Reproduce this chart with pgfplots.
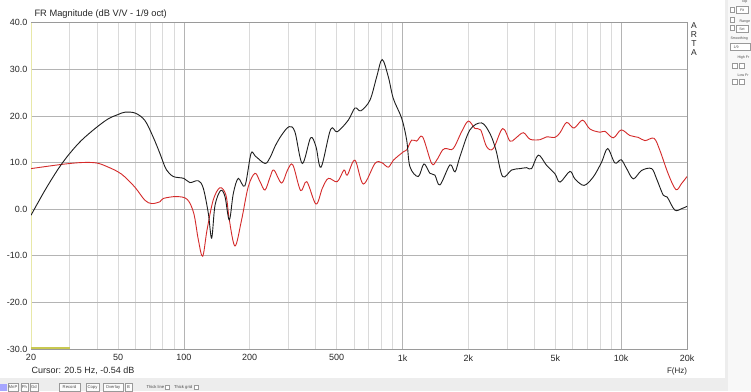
\documentclass[border=0pt]{standalone}
\usepackage{pgfplots}
\pgfplotsset{compat=1.18}
\usepackage{fontspec}
\setmainfont{Liberation Sans}
\definecolor{blk}{HTML}{1E1E1E}
\definecolor{rd}{HTML}{D42A2A}
\definecolor{gridminor}{HTML}{DADADA}
\definecolor{gridmajor}{HTML}{B4B4B4}
\definecolor{frame}{HTML}{9A9A9A}
\definecolor{ui}{HTML}{EDEDED}
\definecolor{ylw}{HTML}{E8E8A8}
\definecolor{ylwd}{HTML}{C8C850}

\pgfplotstableread{
f y
20 -1.3
23.2 4.1
26.7 8.7
30 11.9
34.1 14.8
40 17.6
45.2 19.4
50 20.3
53.8 20.8
60 20.6
66.4 19.0
72.5 15.4
77.8 11.9
80.5 10.0
83.4 8.4
89.5 7.0
100 6.6
106.6 5.7
116.4 6.1
122.7 4.5
129.4 -0.9
134 -6.2
138.8 0.8
147.3 4.0
154.2 2.7
161.4 -2.3
168.4 3.4
177.4 6.6
190.2 5.0
202.7 11.9
212 11.4
235 9.8
248 11.1
262 13.6
280 15.9
303 17.7
322 16.6
348 9.8
380 15.3
402 13.4
424 9.0
469 17.1
503 16.6
565 19.1
606 21.7
645 21.1
710 23.4
762 28.4
807 32.1
861 28.4
908 23.7
991 19.5
1045 14.8
1081 9.1
1180 7.0
1253 9.7
1334 7.7
1406 7.3
1483 5.2
1648 9.5
1738 8.0
1832 11.3
2033 17.0
2300 18.5
2512 16.2
2674 12.7
2870 7.0
3155 8.4
3444 8.7
3700 8.9
3893 8.7
4180 11.6
4557 9.4
4976 7.6
5250 5.8
5830 8.1
6140 6.5
6760 5.1
7450 6.9
8140 10.1
8670 13.0
9360 9.9
10000 10.6
10590 8.7
11360 6.5
12390 8.3
13770 8.7
14520 6.5
15570 3.0
16230 2.6
17580 -0.2
18890 0.1
20000 0.6
}\blackdata

\pgfplotstableread{
f y
20 8.7
27.6 9.6
34.1 10.0
40 9.9
45.2 9.0
50 8.0
53.8 6.9
60 4.6
66.4 1.9
71.3 1.2
77.8 1.6
80.6 2.3
92.6 2.7
103.6 2.1
111 -0.9
116.4 -6.5
121.9 -10.1
127.7 -4.4
136.3 2.0
146.3 4.6
155.8 3.0
161.4 -2.3
171.4 -7.9
183.7 -2.3
197 4.8
211.4 7.7
223 5.9
235 4.1
248 6.9
258 8.4
280 5.6
298 8.4
315 9.5
342 4.0
365 5.9
402 1.1
430 4.5
458 6.6
503 5.9
540 8.4
559 7.3
606 10.5
662 5.4
748 9.8
802 10.0
861 9.0
908 10.5
1009 12.3
1045 12.7
1101 14.8
1161 14.6
1236 15.5
1359 9.8
1432 10.5
1525 12.7
1592 13.0
1707 13.0
1863 16.6
2000 18.9
2145 17.3
2276 17.0
2425 13.4
2601 13.0
2870 17.3
3100 14.6
3267 15.1
3565 16.4
3830 15.0
4250 14.9
4557 15.5
4976 15.4
5250 16.4
5630 18.6
6080 17.4
6660 19.1
7190 17.2
8000 16.5
8430 16.7
9200 15.3
10000 17.0
10960 15.8
11970 15.4
12850 14.7
14130 15.2
15030 12.6
16400 7.6
17790 4.2
18890 5.5
20000 7.0
}\reddata

\begin{document}
\begin{tikzpicture}[x=1pt,y=1pt]
\path[use as bounding box] (0,0) rectangle (751,391);
\fill[ui] (0,0) rectangle (751,391);
\fill[white] (0,13) rectangle (725,391);
\fill[white!60!ui] (728,0) rectangle (751,391);
% right panel controls
\begin{scope}[font=\fontsize{3.6}{4}\selectfont, text=black!70]
\node[anchor=west] at (738,389) {Top};
\draw[black!40, fill=white] (730.5,378.5) rectangle (734.5,383.5);
\draw[black!40, fill=white] (736,377.5) rectangle (748,384.5);
\node at (742,381) {Fit};
\draw[black!40, fill=white] (730.5,369) rectangle (734.5,373.5);
\draw[black!40, fill=white] (730.5,361) rectangle (734.5,365.5);
\node[anchor=west] at (736,369.5) {Range};
\draw[black!40, fill=white] (736,358.5) rectangle (748,365.5);
\node at (742,362) {Set};
\node[anchor=west] at (727,352) {Smoothing};
\draw[black!40, fill=white] (730,340.5) rectangle (750,347.5);
\node at (736,344) {1/9};
\node[anchor=west] at (734,333) {High Fr};
\draw[black!40, fill=white] (732,322.5) rectangle (737,327.5);
\draw[black!40, fill=white] (739,322.5) rectangle (744,327.5);
\node[anchor=west] at (734,316) {Low Fr};
\draw[black!40, fill=white] (732,306.5) rectangle (737,311.5);
\draw[black!40, fill=white] (739,306.5) rectangle (744,311.5);
\end{scope}
% bottom toolbar
\begin{scope}[font=\fontsize{4.2}{5}\selectfont, text=black!70]
\fill[blue!35!white] (0,0) rectangle (6.5,7.5);
\foreach \a/\b/\t in {8/18/MnP,21/28/Ph,30/38/Gd,59/80/Record,86/99/Copy,103/123/Overlay,125/132/B/W}{
  \draw[black!40, fill=white!85!ui] (\a,0) rectangle (\b,7.5);
  \node at ({(\a+\b)/2},3.8) {\t};
}
\node[anchor=west] at (143,3.8) {Thick line};
\draw[black!40, fill=white] (165,1.8) rectangle (169,5.8);
\node[anchor=west] at (170.5,3.8) {Thick grid};
\draw[black!40, fill=white] (194,1.8) rectangle (198,5.8);
\end{scope}

\begin{axis}[
  at={(31pt,42pt)}, anchor=south west,
  width=656pt, height=326.3pt, scale only axis,
  xmode=log, xmin=20, xmax=20000, ymin=-30, ymax=40,
  axis line style={frame, line width=0.6pt},
  xtick={20,50,100,200,500,1000,2000,5000,10000,20000},
  xticklabels={20,50,100,200,500,1k,2k,5k,10k,20k},
  minor xtick={30,40,60,70,80,90,300,400,600,700,800,900,3000,4000,6000,7000,8000,9000},
  extra x ticks={100,1000,10000},
  extra x tick labels={},
  extra x tick style={grid=major, major grid style={gridmajor, line width=0.6pt}},
  ytick={-30,-20,...,40},
  grid=both,
  major grid style={gridminor, line width=0.6pt},
  minor grid style={gridminor, line width=0.6pt},
  ymajorgrids, 
  y grid style={gridmajor, line width=0.6pt},
  major tick length=0pt, minor tick length=0pt,
  tick style={draw=none},
  ticklabel style={font=\fontsize{9}{10}\selectfont, text=black!85},
  xticklabel style={yshift=-2pt},
  yticklabel style={/pgf/number format/.cd, fixed, fixed zerofill, precision=1, assume math mode=true},
  xticklabel style={/pgf/number format/assume math mode=true},
  clip=true,
]
\addplot[ylw, line width=2pt] coordinates {(20.1,-30) (20.1,40)};
\addplot[ylwd, line width=1.5pt] coordinates {(20,-29.8) (30,-29.8)};
\addplot[rd, line width=0.9pt, smooth, tension=0.55] table[x=f,y=y] {\reddata};
\addplot[blk, line width=0.9pt, smooth, tension=0.55] table[x=f,y=y] {\blackdata};
\end{axis}

\node[anchor=west, font=\fontsize{9.3}{10}\selectfont, text=black!85] at (31,376.5) {FR Magnitude (dB V/V - 1/9 oct)};
\node[anchor=west, font=\fontsize{9}{10}\selectfont, text=black!85] at (28,20) {Cursor: 20.5 Hz, -0.54 dB};
\node[font=\fontsize{8}{10}\selectfont, text=black!85] at (677,20) {F(Hz)};
\begin{scope}[font=\fontsize{8.5}{10}\selectfont, text=black!85]
\node at (694,365.3) {A};
\node at (694,356.3) {R};
\node at (694,347.3) {T};
\node at (694,338.3) {A};
\end{scope}
\end{tikzpicture}
\end{document}
